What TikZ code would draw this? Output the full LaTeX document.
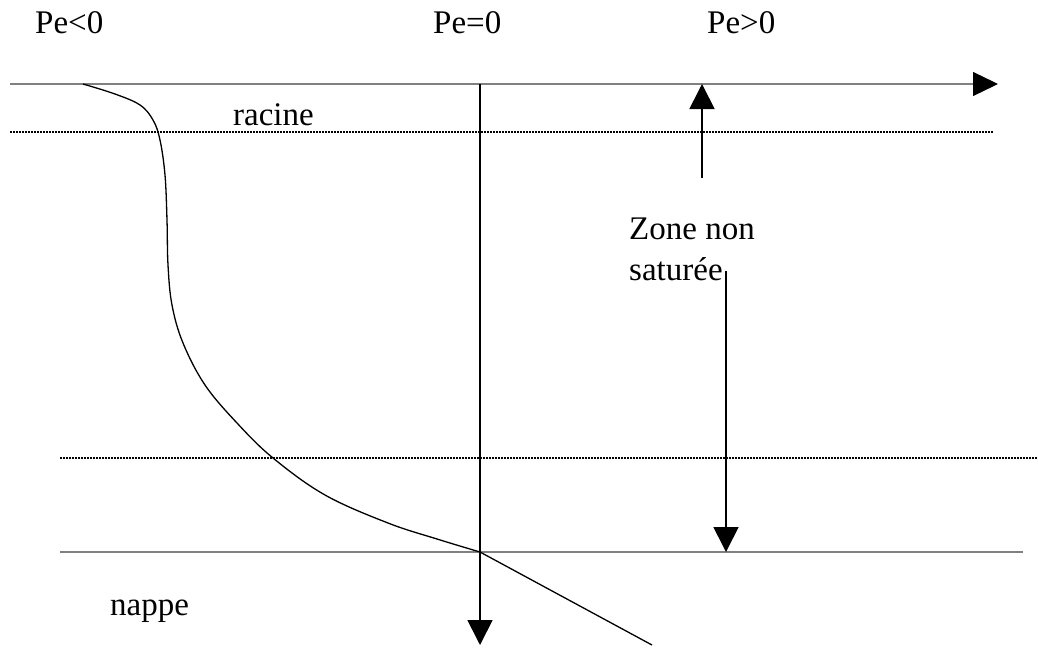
\documentclass[tikz,border=0pt]{standalone}
\usepackage{fontspec}
\setmainfont{Liberation Serif}
\usetikzlibrary{arrows.meta}
\begin{document}
\begin{tikzpicture}[x=1pt,y=-1pt,
  lbl/.style={inner sep=0pt,anchor=base west,font=\fontsize{33}{41}\selectfont},
  axisline/.style={draw=black!50,line width=1.3pt},
  dotline/.style={draw=black,line width=1.8pt,dash pattern=on 2pt off 1pt},
  bigarrow/.style={draw=black,line width=1.7pt,-{Triangle[length=25pt,width=25pt,color=black]}},
  curveline/.style={draw=black,line width=1.3pt}]
\useasboundingbox (0,0) rectangle (1038,648);
% labels
\node[lbl] (pneg) at (35,33) {Pe<0};
\node[lbl] (pzero) at (433,33) {Pe=0};
\node[lbl] (ppos) at (707,33) {Pe>0};
\node[lbl] (racine) at (233,125) {racine};
\node[lbl] (zone1) at (629,239) {Zone non};
\node[lbl] (zone2) at (629,280) {saturée};
\node[lbl] (nappe) at (110,615) {nappe};
% coordinates
\coordinate (axL) at (10,84);
\coordinate (axR) at (998,84);
\coordinate (d1L) at (10,132);
\coordinate (d1R) at (993,132);
\coordinate (d2L) at (60,458);
\coordinate (d2R) at (1038,458);
\coordinate (bL) at (60,552);
\coordinate (bR) at (1023,552);
\coordinate (vTop) at (480,84);
\coordinate (vBot) at (480,645);
\coordinate (upS) at (702,178);
\coordinate (upE) at (702,84);
\coordinate (dnS) at (726,271);
\coordinate (dnE) at (726,552);
\coordinate (cross) at (480,552);
\coordinate (cEnd) at (652,645);
% horizontal lines
\draw[axisline,-{Triangle[length=25pt,width=24pt,color=black]}] (axL) -- (axR);
\draw[dotline] (d1L) -- (d1R);
\draw[dotline] (d2L) -- (d2R);
\draw[axisline] (bL) -- (bR);
% arrows
\draw[bigarrow] (vTop) -- (vBot);
\draw[bigarrow] (upS) -- (upE);
\draw[bigarrow] (dnS) -- (dnE);
% curve
\draw[curveline] plot[smooth,tension=0.6] coordinates {(83,84) (115,94) (140,105) (153,120) (160,140) (165,175) (167,220) (168,265) (172,305) (183,343) (205,385) (237,423) (273,458) (325,495) (388,523) (437,539) (480,552)};
\draw[curveline] (cross) -- (cEnd);
\end{tikzpicture}
\end{document}
